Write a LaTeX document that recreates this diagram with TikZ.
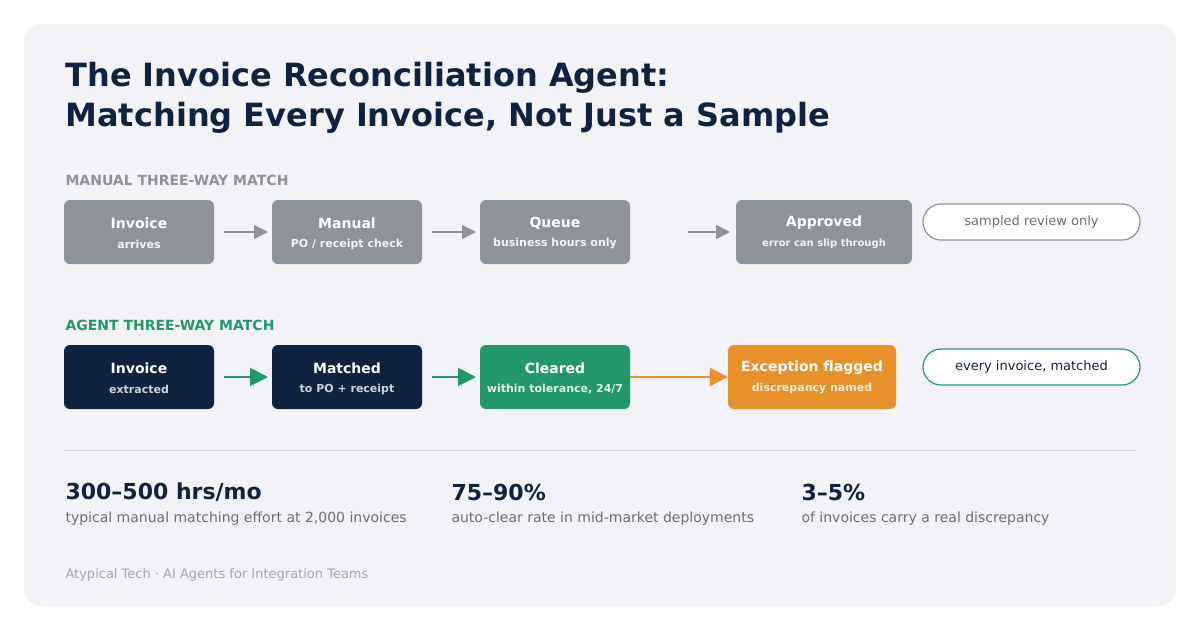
\documentclass[tikz,border=0pt]{standalone}
\usepackage{fontspec}
\setmainfont{DejaVu Sans}
\usetikzlibrary{arrows.meta}
\definecolor{navy}{HTML}{0F2340}
\definecolor{gbox}{HTML}{8E929B}
\definecolor{grn}{HTML}{23996B}
\definecolor{org}{HTML}{E8912A}
\definecolor{panel}{HTML}{F2F2F7}
\definecolor{txtg}{HTML}{6B6E76}
\begin{document}
\begin{tikzpicture}[x=1pt,y=-1pt,
 box/.style={rounded corners=6pt,draw=none,minimum height=64pt,inner sep=0pt},
 bt/.style={font=\bfseries\fontsize{14}{16}\selectfont,text=white},
 bs/.style={font=\bfseries\fontsize{11}{13}\selectfont},
 pill/.style={rounded corners=18pt,fill=white,minimum width=217pt,minimum height=36pt,font=\fontsize{13}{15}\selectfont,line width=1.2pt},
 marr/.style={draw=gbox,line width=1.8pt,-{Triangle[length=14pt,width=14pt]}},
 aarr/.style={line width=2pt,-{Triangle[length=18pt,width=18pt]}},
 lab/.style={anchor=west,font=\bfseries\fontsize{14}{16}\selectfont},
 big/.style={anchor=west,font=\bfseries\fontsize{22}{26}\selectfont,text=navy},
 sub/.style={anchor=west,font=\fontsize{14}{16}\selectfont,text=txtg}]
\useasboundingbox (0,0) rectangle (1200,630);
\fill[white] (0,0) rectangle (1200,630);
\fill[panel,rounded corners=18pt] (24,24) rectangle (1176,606);
\node[anchor=west,font=\bfseries\fontsize{32}{40}\selectfont,text=navy,align=left] (title) at (62,98) {The Invoice Reconciliation Agent:\\Matching Every Invoice, Not Just a Sample};
\node[lab,text=gbox] (ml) at (62,180) {MANUAL THREE-WAY MATCH};
% manual row
\node[box,fill=gbox,minimum width=150pt] (m1) at (139,232) {};
\node[bt] at (139,223) {Invoice};\node[bs,text=white!90!gbox] at (139,244) {arrives};
\node[box,fill=gbox,minimum width=150pt] (m2) at (347,232) {};
\node[bt] at (347,223) {Manual};\node[bs,text=white!90!gbox] at (347,244) {PO / receipt check};
\node[box,fill=gbox,minimum width=150pt] (m3) at (555,232) {};
\node[bt] at (555,223) {Queue};\node[bs,text=white!90!gbox] at (555,244) {business hours only};
\node[box,fill=gbox,minimum width=176pt] (m4) at (824,232) {};
\node[bt] at (824,223) {Approved};\node[bs,font=\bfseries\fontsize{10}{12}\selectfont,text=white!90!gbox] at (824,244) {error can slip through};
\node[pill,draw=gbox,text=txtg] (mp) at (1031.5,222) {sampled review only};
\coordinate (ma1) at (224,232);\coordinate (mb1) at (268,232);
\coordinate (ma2) at (432,232);\coordinate (mb2) at (476,232);
\coordinate (ma3) at (688,232);\coordinate (mb3) at (730,232);
\draw[marr] (ma1)--(mb1);\draw[marr] (ma2)--(mb2);\draw[marr] (ma3)--(mb3);
% agent row
\node[lab,text=grn] (al) at (62,325) {AGENT THREE-WAY MATCH};
\node[box,fill=navy,minimum width=150pt] (a1) at (139,377) {};
\node[bt] at (139,368) {Invoice};\node[bs,text=white!80!navy] at (139,389) {extracted};
\node[box,fill=navy,minimum width=150pt] (a2) at (347,377) {};
\node[bt] at (347,368) {Matched};\node[bs,text=white!80!navy] at (347,389) {to PO + receipt};
\node[box,fill=grn,minimum width=150pt] (a3) at (555,377) {};
\node[bt] at (555,368) {Cleared};\node[bs,text=white!85!grn] at (555,389) {within tolerance, 24/7};
\node[box,fill=org,minimum width=168pt] (a4) at (812,377) {};
\node[bt] at (812,368) {Exception flagged};\node[bs,text=white!85!org] at (812,389) {discrepancy named};
\node[pill,draw=grn,text=navy] (ap) at (1031.5,367) {every invoice, matched};
\coordinate (aa1) at (224,377);\coordinate (ab1) at (268,377);
\coordinate (aa2) at (432,377);\coordinate (ab2) at (476,377);
\draw[aarr,draw=grn] (aa1)--(ab1);\draw[aarr,draw=grn] (aa2)--(ab2);
\draw[aarr,draw=org] (a3.east)--(a4.west);
\draw[gray!35,line width=0.8pt] (64,450)--(1136,450);
\node[big] (s1) at (62,492) {300–500 hrs/mo};
\node[sub] at (62,519) {typical manual matching effort at 2,000 invoices};
\node[big] (s2) at (448,492) {75–90\%};
\node[sub] at (448,519) {auto-clear rate in mid-market deployments};
\node[big] (s3) at (798,492) {3–5\%};
\node[sub] at (798,519) {of invoices carry a real discrepancy};
\node[anchor=west,font=\fontsize{13}{15}\selectfont,text=gray!70] (ft) at (62,575) {Atypical Tech · AI Agents for Integration Teams};
\end{tikzpicture}
\end{document}
